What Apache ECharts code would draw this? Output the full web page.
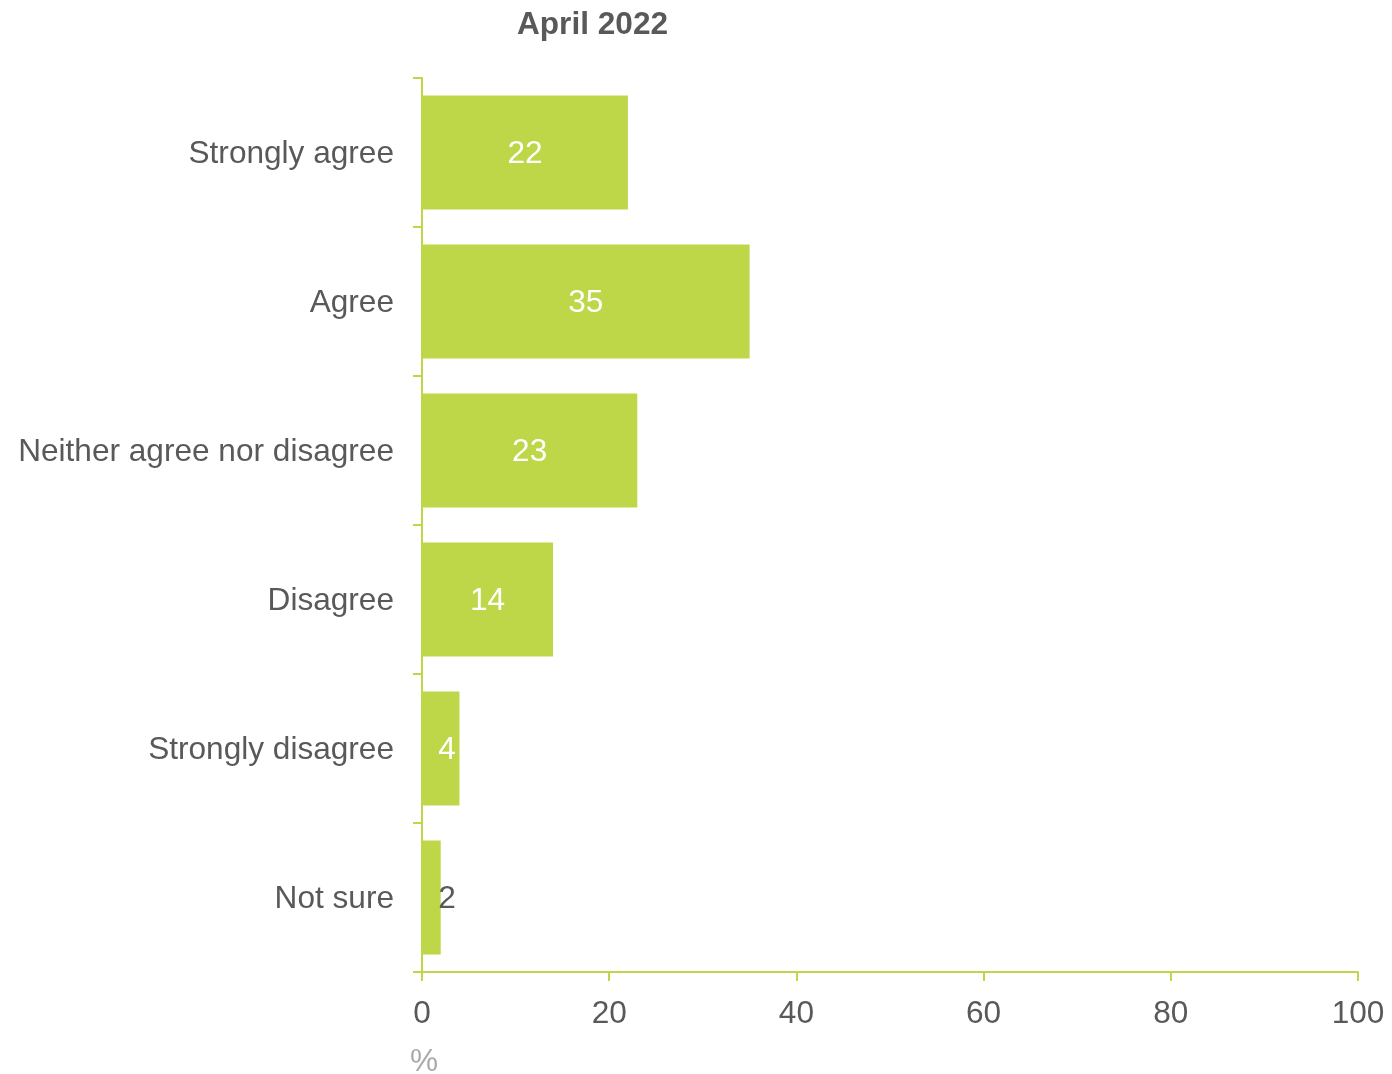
<!DOCTYPE html>
<html>
<head>
<meta charset="utf-8">
<script src="https://cdn.jsdelivr.net/npm/echarts@6/dist/echarts.min.js"></script>
<style>html,body{margin:0;padding:0;background:#fff;}#c{width:1392px;height:1074px;}</style>
</head>
<body>
<div id="c"></div>
<script>
const categories = ["Strongly agree", "Agree", "Neither agree nor disagree", "Disagree", "Strongly disagree", "Not sure"];
const values = [22, 35, 23, 14, 4, 2];
const xTicks = [0, 20, 40, 60, 80, 100];
const titleText = "April 2022";
const unitText = "%";

const green = "#BDD748";
const grey = "#595959";
const font = "Liberation Sans, Arial, sans-serif";
const fs = 31.6;

const chart = echarts.init(document.getElementById('c'), null, {renderer: 'canvas'});
const data = values.map(v => {
  const item = {value: v};
  if (v < 5) {
    item.label = {position: [25, '50%'], align: 'center', verticalAlign: 'middle', color: v < 3 ? grey : '#fff'};
  }
  return item;
});
chart.setOption({
  animation: false,
  backgroundColor: '#fff',
  title: {
    text: titleText, left: 512, top: 4,
    textStyle: {fontFamily: font, fontSize: fs, fontWeight: 'bold', color: grey}
  },
  grid: {left: 422, right: 34, top: 78, bottom: 102, containLabel: false},
  xAxis: {
    type: 'value', min: xTicks[0], max: xTicks[xTicks.length - 1], interval: 20,
    axisLine: {show: true, lineStyle: {color: green, width: 2}},
    axisTick: {show: true, length: 9, lineStyle: {color: green, width: 2}},
    splitLine: {show: false},
    axisLabel: {fontFamily: font, fontSize: fs, color: grey, margin: 26}
  },
  yAxis: {
    type: 'category', data: categories, inverse: true,
    axisLine: {show: true, lineStyle: {color: green, width: 2}},
    axisTick: {show: true, length: 9, lineStyle: {color: green, width: 2}},
    axisLabel: {
      fontFamily: font, fontSize: fs, color: grey, margin: 28,
      formatter: v => '{a|' + v + '}',
      rich: {a: {fontFamily: font, fontSize: fs, color: grey, padding: [4, 0, 0, 0]}}
    }
  },
  series: [{
    type: 'bar', data: data, barCategoryGap: '23.5%',
    itemStyle: {color: green},
    label: {show: true, position: 'inside', fontFamily: font, fontSize: fs, color: '#fff', offset: [0, 2]}
  }],
  graphic: [{
    type: 'text', left: 410, top: 1046,
    style: {text: unitText, fontFamily: font, fontSize: fs, fill: '#AAAAAA'}
  }]
});
</script>
</body>
</html>
